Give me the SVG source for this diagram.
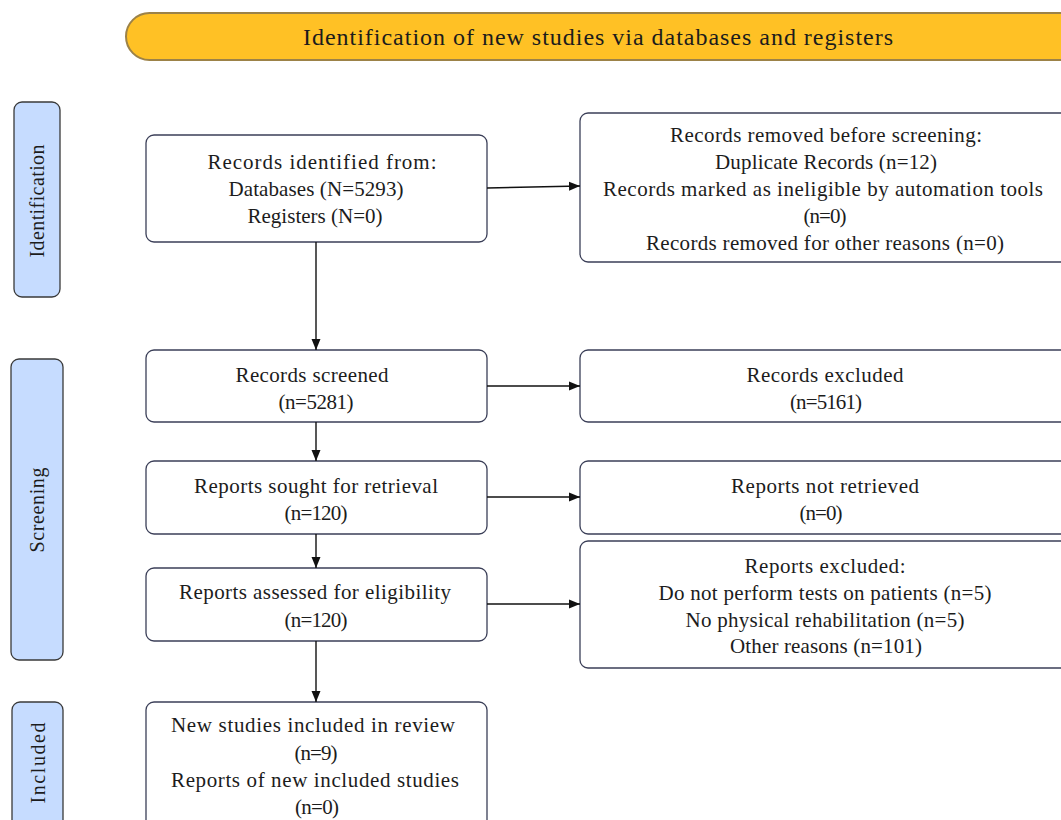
<svg xmlns="http://www.w3.org/2000/svg" width="1061" height="820" viewBox="0 0 1061 820">
<defs>
<marker id="ah" markerWidth="12" markerHeight="12" refX="11" refY="5" orient="auto" markerUnits="userSpaceOnUse">
<path d="M0,0.5 L11,5 L0,9.5 Z" fill="#111"/>
</marker>
<style>
.box{fill:#fff;stroke:#3b3f58;stroke-width:1.3}
.side{fill:#c6dcff;stroke:#3a3a3a;stroke-width:1.3}
.t{font-family:"Liberation Serif","Times New Roman",serif;font-size:21px;fill:#1c1c1c;text-anchor:middle}
.bt{font-family:"Liberation Serif","Times New Roman",serif;font-size:24px;fill:#1c1c1c;text-anchor:middle}
.st{font-family:"Liberation Serif","Times New Roman",serif;font-size:20px;fill:#1c1c1c;text-anchor:middle}
.c{stroke:#111;stroke-width:1.4;fill:none;marker-end:url(#ah)}
</style>
</defs>
<rect width="1061" height="820" fill="#fff"/>
<g id="banner">
<rect x="126" y="13" width="960" height="47" rx="23.5" fill="#ffc125" stroke="#9c8248" stroke-width="2"/>
<text class="bt" x="598" y="45" textLength="590" lengthAdjust="spacing">Identification of new studies via databases and registers</text>
</g>
<g id="side-identification">
<rect class="side" x="14" y="102" width="46" height="195" rx="8"/>
<text class="st" transform="translate(44,201) rotate(-90)" textLength="113" lengthAdjust="spacing">Identification</text>
</g>
<g id="side-screening">
<rect class="side" x="11" y="359" width="52" height="301" rx="8"/>
<text class="st" transform="translate(44,510) rotate(-90)" textLength="85" lengthAdjust="spacing">Screening</text>
</g>
<g id="side-included">
<rect class="side" x="12" y="702" width="51" height="140" rx="8"/>
<text class="st" transform="translate(45,763) rotate(-90)" textLength="81" lengthAdjust="spacing">Included</text>
</g>
<g id="records-identified">
<rect class="box" x="146" y="135" width="341" height="107" rx="8"/>
<text class="t" x="322" y="169" textLength="229" lengthAdjust="spacing">Records identified from:</text>
<text class="t" x="316" y="196" textLength="175" lengthAdjust="spacing">Databases (N=5293)</text>
<text class="t" x="315" y="223" textLength="135" lengthAdjust="spacing">Registers (N=0)</text>
</g>
<g id="records-removed">
<rect class="box" x="580" y="113" width="500" height="149" rx="8"/>
<text class="t" x="826" y="142" textLength="312" lengthAdjust="spacing">Records removed before screening:</text>
<text class="t" x="826" y="169" textLength="222" lengthAdjust="spacing">Duplicate Records (n=12)</text>
<text class="t" x="823" y="196" textLength="440" lengthAdjust="spacing">Records marked as ineligible by automation tools</text>
<text class="t" x="825" y="223" textLength="43" lengthAdjust="spacing">(n=0)</text>
<text class="t" x="825" y="250" textLength="358" lengthAdjust="spacing">Records removed for other reasons (n=0)</text>
</g>
<g id="records-screened">
<rect class="box" x="146" y="350" width="341" height="72" rx="8"/>
<text class="t" x="312" y="382" textLength="153" lengthAdjust="spacing">Records screened</text>
<text class="t" x="316" y="409" textLength="75" lengthAdjust="spacing">(n=5281)</text>
</g>
<g id="records-excluded">
<rect class="box" x="580" y="350" width="500" height="72" rx="8"/>
<text class="t" x="825" y="382" textLength="157" lengthAdjust="spacing">Records excluded</text>
<text class="t" x="826" y="409" textLength="72" lengthAdjust="spacing">(n=5161)</text>
</g>
<g id="reports-sought">
<rect class="box" x="146" y="461" width="341" height="73" rx="8"/>
<text class="t" x="316" y="493" textLength="244" lengthAdjust="spacing">Reports sought for retrieval</text>
<text class="t" x="316" y="520" textLength="63" lengthAdjust="spacing">(n=120)</text>
</g>
<g id="reports-not-retrieved">
<rect class="box" x="580" y="461" width="500" height="73" rx="8"/>
<text class="t" x="825" y="493" textLength="188" lengthAdjust="spacing">Reports not retrieved</text>
<text class="t" x="821" y="520" textLength="43" lengthAdjust="spacing">(n=0)</text>
</g>
<g id="reports-assessed">
<rect class="box" x="146" y="568" width="341" height="73" rx="8"/>
<text class="t" x="315" y="599" textLength="272" lengthAdjust="spacing">Reports assessed for eligibility</text>
<text class="t" x="316" y="627" textLength="63" lengthAdjust="spacing">(n=120)</text>
</g>
<g id="reports-excluded">
<rect class="box" x="580" y="541" width="500" height="127" rx="8"/>
<text class="t" x="825" y="573" textLength="161" lengthAdjust="spacing">Reports excluded:</text>
<text class="t" x="825" y="600" textLength="333" lengthAdjust="spacing">Do not perform tests on patients (n=5)</text>
<text class="t" x="825" y="627" textLength="279" lengthAdjust="spacing">No physical rehabilitation (n=5)</text>
<text class="t" x="826" y="653" textLength="192" lengthAdjust="spacing">Other reasons (n=101)</text>
</g>
<g id="new-studies">
<rect class="box" x="146" y="702" width="341" height="140" rx="8"/>
<text class="t" x="313" y="732" textLength="284" lengthAdjust="spacing">New studies included in review</text>
<text class="t" x="316" y="760" textLength="43" lengthAdjust="spacing">(n=9)</text>
<text class="t" x="315" y="787" textLength="288" lengthAdjust="spacing">Reports of new included studies</text>
<text class="t" x="317" y="814" textLength="44" lengthAdjust="spacing">(n=0)</text>
</g>
<g id="connectors">
<line class="c" x1="487" y1="188" x2="580" y2="186"/>
<line class="c" x1="316" y1="242" x2="316" y2="350"/>
<line class="c" x1="487" y1="386" x2="580" y2="386"/>
<line class="c" x1="316" y1="422" x2="316" y2="461"/>
<line class="c" x1="487" y1="497" x2="580" y2="497"/>
<line class="c" x1="316" y1="534" x2="316" y2="568"/>
<line class="c" x1="487" y1="604" x2="580" y2="604"/>
<line class="c" x1="316" y1="641" x2="316" y2="702"/>
</g>
</svg>
